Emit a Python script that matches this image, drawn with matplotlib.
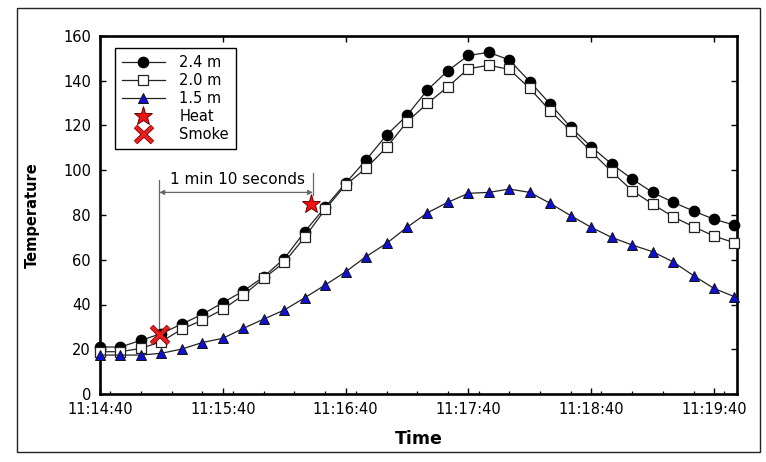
import matplotlib
matplotlib.use("Agg")
import matplotlib.pyplot as plt
import matplotlib.patheffects as pe
from matplotlib.patches import Rectangle
from matplotlib.ticker import FixedLocator, MultipleLocator, FuncFormatter

plt.rcParams['font.family'] = ['DejaVu Sans']

times = ['11:14:40', '11:14:50', '11:15:00', '11:15:10', '11:15:20', '11:15:30',
         '11:15:40', '11:15:50', '11:16:00', '11:16:10', '11:16:20', '11:16:30',
         '11:16:40', '11:16:50', '11:17:00', '11:17:10', '11:17:20', '11:17:30',
         '11:17:40', '11:17:50', '11:18:00', '11:18:10', '11:18:20', '11:18:30',
         '11:18:40', '11:18:50', '11:19:00', '11:19:10', '11:19:20', '11:19:30',
         '11:19:40', '11:19:50']

t_24 = [21, 21, 24, 27, 31.3, 35.6, 40.8, 46, 52.4, 60.5, 72.5, 83.5,
        94.2, 104.6, 115.7, 124.5, 135.9, 144.5, 151.3, 152.7, 149.3, 139.6,
        129.6, 119.2, 110.5, 102.8, 96.1, 90.1, 85.7, 81.8, 78.1, 75.5]
t_20 = [18.9, 18.9, 20.4, 23.4, 29, 33, 37.8, 44.2, 51.7, 58.8, 70, 82.5,
        93.4, 100.9, 110.2, 121.6, 129.9, 137.3, 145.4, 146.9, 145.1, 136.6,
        126.5, 117.7, 108.3, 99.4, 90.9, 84.9, 79.2, 74.8, 70.6, 67.6]
t_15 = [17.4, 17.4, 17.4, 18.2, 20.1, 23, 24.9, 29.3, 33.5, 37.5, 43, 48.7,
        54.6, 61.4, 67.3, 74.5, 81, 85.7, 89.7, 90.1, 91.6, 90.1, 85.2, 79.7,
        74.5, 70, 66.6, 63.6, 59.1, 52.9, 47.2, 43.5]

heat_time, heat_temp = '11:16:23', 85
smoke_time, smoke_temp = '11:15:09', 26.5
tick_labels = ['11:14:40', '11:15:40', '11:16:40', '11:17:40', '11:18:40', '11:19:40']
y_ticks = [0, 20, 40, 60, 80, 100, 120, 140, 160]
annot_text = '1 min 10 seconds'


def sec(s):
    h, m, x = s.split(':')
    return int(h) * 3600 + int(m) * 60 + float(x)


def fmt(v, pos=None):
    v = int(round(v))
    return f"{v // 3600}:{(v % 3600) // 60:02d}:{v % 60:02d}"


x = [sec(t) for t in times]

fig = plt.figure(figsize=(7.66, 4.62), dpi=100)
ax = fig.add_axes([100 / 766, 68 / 462, 637.3 / 766, 358 / 462])

lc = '#222222'
ax.plot(x, t_24, '-o', color=lc, lw=0.9, ms=7.4, mfc='black', mec='black',
        label='2.4 m', clip_on=False, zorder=3)
ax.plot(x, t_20, '-s', color=lc, lw=0.9, ms=6.8, mfc='white', mec='#222222',
        mew=0.9, label='2.0 m', clip_on=False, zorder=4)
ax.plot(x, t_15, '-^', color=lc, lw=0.9, ms=7.8, mfc='#1010d0', mec='#111111',
        mew=0.7, label='1.5 m', clip_on=False, zorder=4)
ax.plot([sec(heat_time)], [heat_temp], linestyle='none', marker='*', ms=14,
        mfc='#ee1111', mec='#700000', mew=0.7, label='Heat', zorder=6)
ax.plot([sec(smoke_time)], [smoke_temp], linestyle='none', marker='x', ms=12,
        mec='#e52020', mew=2.4, label='Smoke', zorder=6,
        path_effects=[pe.Stroke(linewidth=3.6, foreground='#8a0000'), pe.Normal()])

# annotation lines
gc = '#666666'
ax.plot([sec(smoke_time)] * 2, [28.6, 95.6], color=gc, lw=0.9, zorder=2)
ax.plot([sec('11:16:24')] * 2, [88.9, 98.6], color=gc, lw=0.9, zorder=2)
ax.annotate('', xy=(sec(smoke_time), 90.1), xytext=(sec('11:16:24'), 90.1),
            arrowprops=dict(arrowstyle='<|-|>', color=gc, lw=0.9,
                            mutation_scale=7, shrinkA=0, shrinkB=0))
ax.text(sec('11:15:47'), 92.6, annot_text, ha='center', va='bottom', fontsize=11)

ax.set_xlim(sec('11:14:40'), sec('11:19:51.4'))
ax.set_ylim(0, 160)
ax.xaxis.set_major_locator(FixedLocator([sec(t) for t in tick_labels]))
ax.xaxis.set_major_formatter(FuncFormatter(fmt))
ax.xaxis.set_minor_locator(MultipleLocator(15))
ax.set_yticks(y_ticks)

for s in ax.spines.values():
    s.set_linewidth(1.9)
ax.tick_params(which='major', direction='in', top=True, right=True,
               length=4, width=1.0, labelsize=10.5, pad=6.5)
ax.tick_params(axis='x', which='major', pad=6)
ax.tick_params(which='minor', direction='in', top=False, right=False,
               bottom=True, length=2.5, width=0.9)

ax.set_xlabel('Time', fontsize=12.5, fontweight='bold')
ax.set_ylabel('Temperature', fontsize=10.5, fontweight='bold')
ax.xaxis.set_label_coords(0.5, -0.1)
ax.yaxis.set_label_coords(-0.094, 0.5)

leg = ax.legend(loc='upper left', bbox_to_anchor=(0.0235, 0.966),
                borderaxespad=0, fancybox=False, edgecolor='black',
                framealpha=1, fontsize=10.5, handlelength=2.9,
                labelspacing=0.2, borderpad=0.5, handletextpad=1.0)
leg.get_frame().set_linewidth(1.0)

fig.patches.append(Rectangle((17.3 / 766, 10.3 / 462), (760 - 17.3) / 766,
                             (451.7 - 8.3) / 462, transform=fig.transFigure,
                             fill=False, edgecolor='#222222', lw=1.0))

fig.savefig('out.png', dpi=100)
